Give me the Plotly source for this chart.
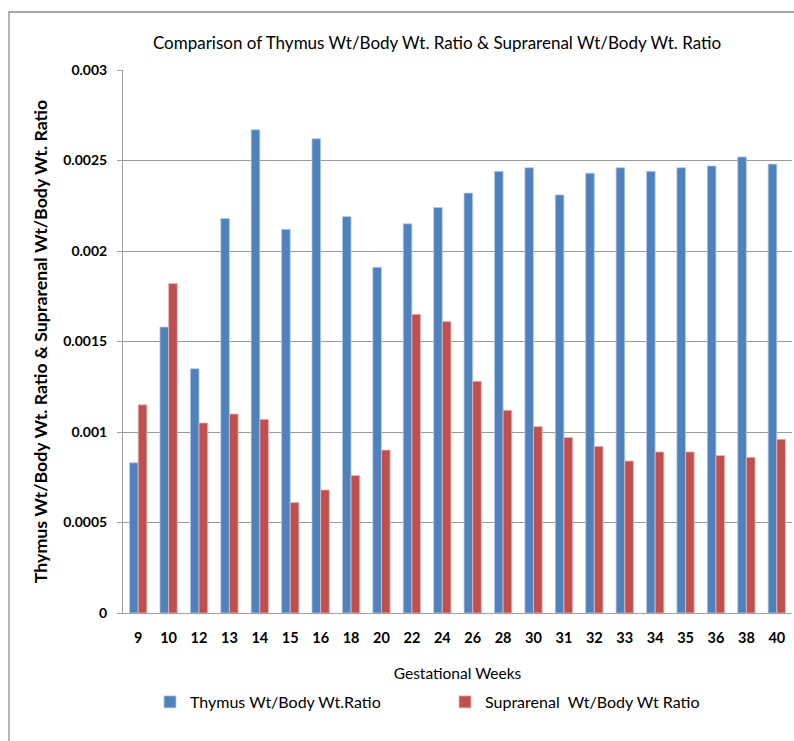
import plotly.graph_objects as go

weeks = ["9", "10", "12", "13", "14", "15", "16", "18", "20", "22", "24",
         "26", "28", "30", "31", "32", "33", "34", "35", "36", "38", "40"]
thymus = [0.00083, 0.00158, 0.00135, 0.00218, 0.00267, 0.00212, 0.00262, 0.00219,
          0.00191, 0.00215, 0.00224, 0.00232, 0.00244, 0.00246, 0.00231, 0.00243,
          0.00246, 0.00244, 0.00246, 0.00247, 0.00252, 0.00248]
suprarenal = [0.00115, 0.00182, 0.00105, 0.00110, 0.00107, 0.00061, 0.00068, 0.00076,
              0.00090, 0.00165, 0.00161, 0.00128, 0.00112, 0.00103, 0.00097, 0.00092,
              0.00084, 0.00089, 0.00089, 0.00087, 0.00086, 0.00096]
ytick_vals = [0, 0.0005, 0.001, 0.0015, 0.002, 0.0025, 0.003]
ytick_text = ["0", "0.0005", "0.001", "0.0015", "0.002", "0.0025", "0.003"]

FONT = "Lato, 'Open Sans', sans-serif"
W, H = 794, 741
L, R, T, B = 123, 2, 70, 128
pw, ph = W - L - R, H - T - B

def px_x(x):
    return (x - L) / pw

def px_y(y):
    return (H - B - y) / ph

fig = go.Figure()
fig.add_trace(go.Bar(x=weeks, y=thymus, name="Thymus Wt/Body Wt.Ratio",
                     marker=dict(color="#4F81BD", line=dict(color="#B9CDE5", width=0.8))))
fig.add_trace(go.Bar(x=weeks, y=suprarenal, name="Suprarenal  Wt/Body Wt Ratio",
                     marker=dict(color="#C0504D", line=dict(color="#E6B9B8", width=0.8))))

fig.update_layout(
    width=W, height=H,
    margin=dict(l=L, r=R, t=T, b=B),
    paper_bgcolor="white", plot_bgcolor="white",
    barmode="group", bargap=0.43, bargroupgap=0,
    font=dict(family=FONT, color="black"),
    title=dict(text="Comparison of Thymus Wt/Body Wt. Ratio & Suprarenal Wt/Body Wt. Ratio",
               x=437 / W, xanchor="center", y=1 - 43 / H, yanchor="middle",
               font=dict(size=17, family=FONT)),
    xaxis=dict(type="category", showgrid=False, showline=True, linecolor="#A0A0A0", linewidth=1,
               ticks="", ticklabelstandoff=12,
               tickfont=dict(size=14.5, family=FONT, weight="bold"),
               title=dict(text="Gestational Weeks", font=dict(size=15.5, family=FONT), standoff=22)),
    yaxis=dict(range=[0, 0.003], tickvals=ytick_vals, ticktext=ytick_text,
               showgrid=True, gridcolor="#9A9A9A", gridwidth=1,
               showline=True, linecolor="#A0A0A0", linewidth=1,
               ticks="outside", ticklen=5, tickcolor="#A0A0A0",
               ticklabelstandoff=7,
               tickfont=dict(size=14, family=FONT, weight="bold"),
               zeroline=False,
               title=dict(text="Thymus Wt/Body Wt. Ratio & Suprarenal Wt/Body Wt. Ratio",
                          font=dict(size=17.8, family=FONT, weight="bold"), standoff=11)),
    legend=dict(orientation="h", x=px_x(150), xanchor="left", y=px_y(702), yanchor="middle",
                font=dict(size=16, family=FONT), entrywidth=250, itemwidth=30,
                bgcolor="rgba(0,0,0,0)"),
    shapes=[dict(type="rect", xref="paper", yref="paper",
                 x0=px_x(9), x1=px_x(820), y0=px_y(760), y1=px_y(12),
                 line=dict(color="#8C8C8C", width=1.3), fillcolor="rgba(0,0,0,0)", layer="below")],
)

fig.write_html("out.html", config={"displayModeBar": False},
               post_script="document.body.style.margin='0';")
